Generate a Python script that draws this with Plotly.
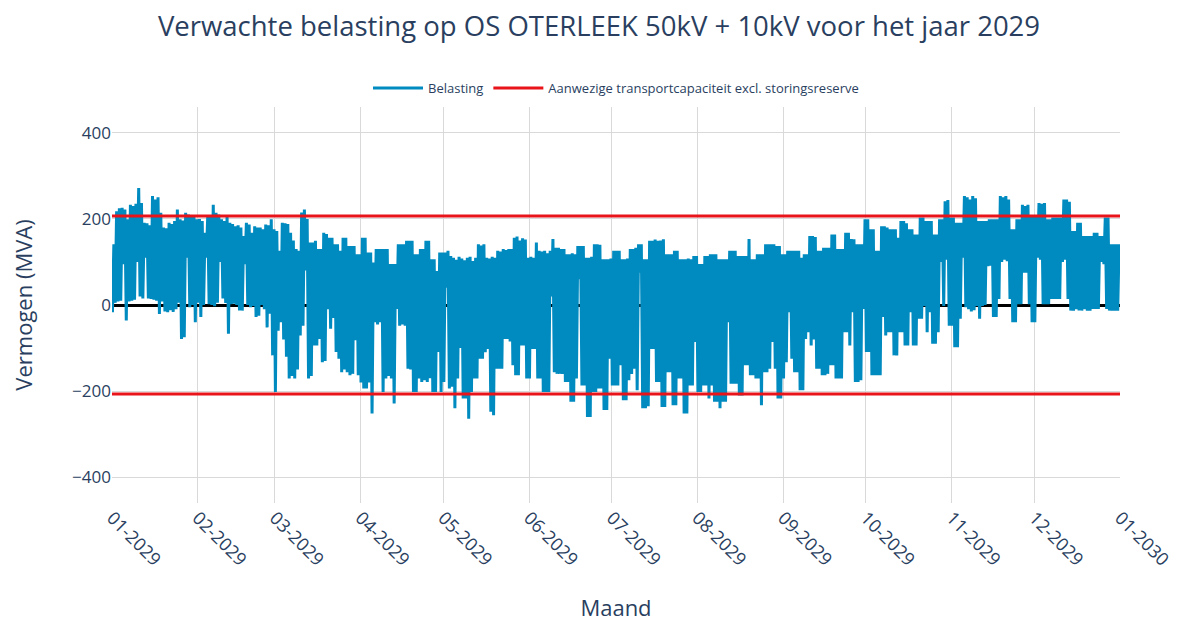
import pandas as pd
import plotly.graph_objects as go

# Daily peak and trough of the expected load (MVA), one row per month
daily_max = [
    141, 218, 225, 226, 222, 199, 233, 230, 235, 272, 237, 191, 190, 185, 253, 245, 250, 214, 180, 178, 191, 188, 195, 222, 199, 196, 214, 210, 207, 205, 199,
    200, 195, 168, 207, 205, 233, 214, 210, 199, 195, 207, 191, 188, 183, 185, 180, 160, 191, 187, 168, 183, 180, 180, 176, 187, 185, 199, 176,
    172, 126, 191, 190, 188, 168, 150, 130, 126, 215, 222, 200, 145, 145, 149, 130, 130, 168, 165, 156, 156, 141, 141, 126, 156, 156, 137, 137, 137, 118, 118,
    156, 156, 122, 122, 99, 130, 130, 130, 130, 130, 95, 95, 95, 141, 141, 141, 149, 149, 149, 118, 118, 130, 130, 149, 149, 106, 106, 79, 122, 122,
    122, 126, 114, 110, 105, 112, 108, 104, 110, 112, 102, 110, 141, 138, 141, 110, 108, 112, 110, 126, 124, 130, 128, 130, 130, 156, 159, 150, 155, 152, 110,
    112, 110, 145, 126, 124, 126, 120, 126, 153, 133, 133, 130, 130, 118, 118, 120, 118, 137, 137, 137, 110, 110, 112, 141, 141, 140, 106, 106, 106, 108,
    126, 126, 126, 106, 106, 108, 130, 130, 133, 141, 141, 106, 106, 149, 149, 152, 149, 150, 153, 118, 118, 118, 126, 126, 106, 106, 106, 108, 106, 114, 114,
    95, 95, 114, 114, 118, 118, 118, 106, 106, 106, 106, 126, 126, 126, 114, 114, 114, 114, 153, 106, 106, 118, 118, 118, 141, 141, 141, 141, 137, 137, 118,
    118, 126, 126, 126, 126, 126, 110, 118, 118, 160, 160, 158, 126, 126, 133, 133, 133, 164, 164, 130, 130, 130, 168, 168, 153, 153, 141, 141, 141, 199,
    199, 176, 176, 126, 126, 183, 183, 180, 176, 176, 176, 156, 195, 195, 190, 176, 176, 164, 164, 203, 203, 195, 195, 195, 164, 164, 199, 199, 241, 244, 203,
    203, 191, 191, 191, 253, 250, 245, 253, 248, 195, 195, 195, 195, 199, 199, 199, 199, 253, 250, 253, 245, 176, 176, 199, 199, 233, 230, 233, 207, 207,
    207, 237, 235, 237, 199, 199, 203, 203, 203, 203, 245, 245, 240, 172, 172, 191, 191, 160, 160, 160, 160, 168, 168, 160, 160, 203, 203, 141, 141, 141, 141,
]
daily_min = [
    -17, 5, 8, 10, 95, -36, 8, 10, 12, 100, 20, 15, 110, 15, 14, 12, 10, -21, 8, -15, -17, -12, -16, -10, 5, -79, -75, 110, -5, 0, -40,
    5, -28, 0, 110, 2, 0, -3, 5, 100, 15, 5, -67, 2, 3, 0, -13, -13, 95, 0, -5, -2, -28, -25, 0, -10, -52, -20, -117,
    -202, -60, -40, -80, -120, -171, -165, -171, -150, -71, -48, 80, -171, -165, -94, -94, -79, -133, -130, -10, -55, -30, -109, -125, -156, -150, -156, -163, -160, -82, -163,
    -180, -194, -194, -180, -252, -40, -45, -40, -202, -171, -165, -171, -229, -9, -48, -45, -48, -148, -150, -202, -202, -171, -179, -175, -179, -170, -202, -202, -109, -202,
    -179, 40, -194, -190, -240, -171, -100, -217, -217, -264, -202, -171, -171, -125, -125, -110, -102, -248, -256, -148, -148, -148, -79, -79, -85, -140, -163, -163, -94, -94, -171,
    -171, -102, -102, -171, -171, -202, -202, -202, 20, -156, -160, -160, -160, -179, -179, -225, -225, -171, 60, -187, -187, -260, -260, -202, -202, -194, -194, -244, -244, -125,
    -187, -187, -187, -140, -221, -221, -175, -160, -148, -198, 75, -240, -240, -235, -102, -102, -179, -179, -237, -237, -156, -156, -233, -233, -171, -171, -252, -252, -187, -187, -86,
    -202, -202, -187, -187, -217, -187, -225, -225, -240, -225, -225, -40, -183, -183, -183, -210, -210, -140, -140, -163, -163, -171, -171, -233, -156, -156, -148, -86, -148, -217, -217,
    -171, -133, -17, -125, -156, -156, -198, -198, -79, -63, -94, -80, -148, -148, -163, -163, -160, -140, -140, -171, -171, -171, -63, -63, -94, -17, -179, -179, -175, -9,
    -109, -109, -163, -163, -163, -163, -28, -71, -63, -63, -117, -117, -63, -63, -94, -94, -17, -94, -94, -32, -32, -2, -63, -17, -90, -90, -63, 100, -2, 105, -48,
    -48, -98, -98, -32, 110, -5, -10, -15, -12, -2, -32, -2, 0, 90, 91, -28, -28, 14, 100, 105, 102, 14, -40, -40, 2, 2, 75, 75, 2, -40,
    -40, 110, 105, 2, 2, 2, 14, 14, 14, 14, 100, 105, 14, -13, -13, -10, -13, -13, -10, -13, -13, -9, -9, -9, 100, 95, -9, -13, -13, -13, -13,
]
capacity = 207  # MVA, transport capacity excl. reserve (both directions)
year_start = "2029-01-01"
year_end = "2030-01-01"

assert len(daily_max) == 365 and len(daily_min) == 365

start = pd.Timestamp(year_start)
times, load = [], []
for d, (lo, hi) in enumerate(zip(daily_min, daily_max)):
    times += [start + pd.Timedelta(days=d, hours=4), start + pd.Timedelta(days=d, hours=16)]
    load += [lo, hi]

font_color = "#2a3f5f"

fig = go.Figure()

fig.add_trace(
    go.Scatter(
        x=times,
        y=load,
        mode="lines",
        line={"color": "#008BC0", "width": 3},
        name="Belasting",
    )
)

fig.add_trace(
    go.Scatter(
        x=[year_start, year_end, None, year_start, year_end],
        y=[capacity, capacity, None, -capacity, -capacity],
        mode="lines",
        line={"color": "#E8141A", "width": 3},
        name="Aanwezige transportcapaciteit excl. storingsreserve",
    )
)

fig.update_layout(
    template="plotly_white",
    width=1182,
    height=620,
    font={"family": "Open Sans, sans-serif", "color": font_color},
    title={
        "text": "Verwachte belasting op OS OTERLEEK 50kV + 10kV voor het jaar 2029",
        "x": 0.5,
        "xanchor": "center",
        "y": 0.97,
        "yanchor": "middle",
        "font": {"size": 27.5},
    },
    legend={
        "orientation": "h",
        "x": 0.5,
        "xanchor": "center",
        "y": 1.01,
        "yanchor": "bottom",
        "font": {"size": 13},
        "itemwidth": 50,
    },
    margin={"l": 104, "r": 70, "t": 99, "b": 123},
    plot_bgcolor="white",
)

fig.update_xaxes(
    range=[year_start, year_end],
    dtick="M1",
    tickformat="%m-%Y",
    tickangle=45,
    tickfont={"size": 18},
    title={"text": "Maand", "font": {"size": 22}, "standoff": 30},
    showgrid=True,
    gridcolor="#d9d9d9",
    zeroline=False,
)

fig.update_yaxes(
    range=[-460, 460],
    dtick=200,
    tickfont={"size": 17},
    title={"text": "Vermogen (MVA)", "font": {"size": 22}, "standoff": 33},
    showgrid=True,
    gridcolor="#d9d9d9",
    zeroline=True,
    zerolinecolor="black",
    zerolinewidth=3,
)

fig.write_html("out.html")
